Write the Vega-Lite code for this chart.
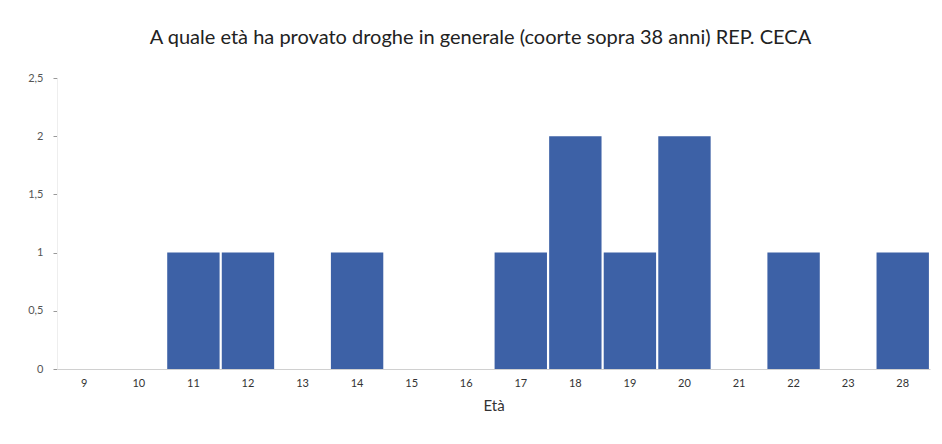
{
  "$schema": "https://vega.github.io/schema/vega-lite/v6.json",
  "autosize": {"type": "none"},
  "padding": {"left": 57, "top": 78, "right": 12, "bottom": 75},
  "width": 873,
  "height": 291,
  "background": "white",
  "config": {
    "font": "Lato",
    "view": {"stroke": null}
  },
  "title": {
    "text": "A quale età ha provato droghe in generale (coorte sopra 38 anni) REP. CECA",
    "fontSize": 20,
    "fontWeight": "normal",
    "color": "#222222",
    "offset": 24,
    "dx": -13,
    "anchor": "middle"
  },
  "data": {
    "values": [
      {"eta": "9", "n": 0},
      {"eta": "10", "n": 0},
      {"eta": "11", "n": 1},
      {"eta": "12", "n": 1},
      {"eta": "13", "n": 0},
      {"eta": "14", "n": 1},
      {"eta": "15", "n": 0},
      {"eta": "16", "n": 0},
      {"eta": "17", "n": 1},
      {"eta": "18", "n": 2},
      {"eta": "19", "n": 1},
      {"eta": "20", "n": 2},
      {"eta": "21", "n": 0},
      {"eta": "22", "n": 1},
      {"eta": "23", "n": 0},
      {"eta": "28", "n": 1}
    ]
  },
  "mark": {"type": "bar", "color": "#3d61a6", "strokeWidth": 0},
  "encoding": {
    "x": {
      "field": "eta",
      "type": "ordinal",
      "sort": null,
      "title": "Età",
      "scale": {"paddingInner": 0.04, "paddingOuter": 0.02},
      "axis": {
        "labelAngle": 0,
        "labelFontSize": 11,
        "labelColor": "#333333",
        "labelPadding": 8,
        "ticks": false,
        "domainColor": "#d0d0d0",
        "titleFontSize": 15,
        "titleFontWeight": "normal",
        "titleColor": "#333333",
        "titlePadding": 10
      }
    },
    "y": {
      "field": "n",
      "type": "quantitative",
      "title": null,
      "scale": {"domain": [0, 2.5]},
      "axis": {
        "values": [0, 0.5, 1, 1.5, 2, 2.5],
        "labelExpr": "replace(format(datum.value, '~g'), '.', ',')",
        "grid": false,
        "labelFontSize": 11,
        "labelColor": "#555555",
        "tickColor": "#999999",
        "tickSize": 4,
        "labelPadding": 10,
        "domainColor": "#eeeeee"
      }
    }
  }
}
